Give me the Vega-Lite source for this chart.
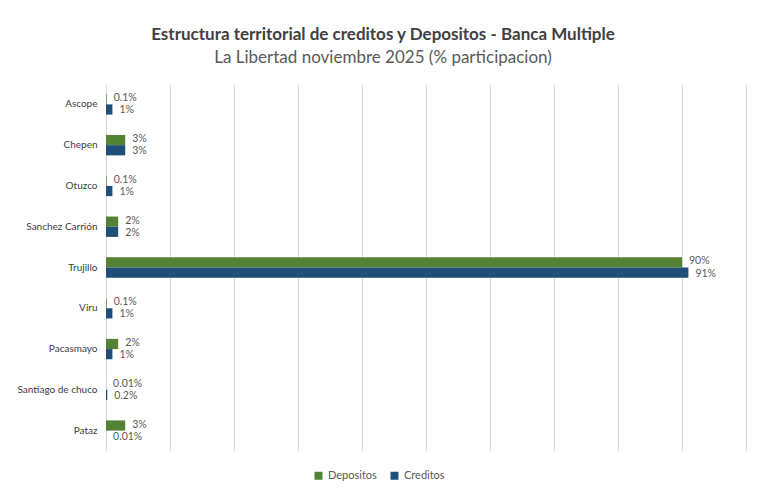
{
  "$schema": "https://vega.github.io/schema/vega-lite/v6.json",
  "width": 640,
  "height": 367,
  "autosize": {"type": "none"},
  "padding": {"left": 106, "top": 84, "right": 12, "bottom": 41},
  "background": "white",
  "title": {
    "text": "Estructura territorial de creditos y Depositos - Banca Multiple",
    "subtitle": "La Libertad noviembre 2025 (% participacion)",
    "anchor": "middle",
    "dx": -43,
    "offset": 17,
    "font": "Lato",
    "fontSize": 17,
    "fontWeight": "bold",
    "color": "#404040",
    "subtitleFont": "Lato",
    "subtitleFontSize": 17,
    "subtitleColor": "#595959",
    "subtitlePadding": 6
  },
  "data": {
    "values": [
      {"provincia": "Ascope", "serie": "Depositos", "valor": 0.1, "etiqueta": "0.1%"},
      {"provincia": "Ascope", "serie": "Creditos", "valor": 1, "etiqueta": "1%"},
      {"provincia": "Chepen", "serie": "Depositos", "valor": 3, "etiqueta": "3%"},
      {"provincia": "Chepen", "serie": "Creditos", "valor": 3, "etiqueta": "3%"},
      {"provincia": "Otuzco", "serie": "Depositos", "valor": 0.1, "etiqueta": "0.1%"},
      {"provincia": "Otuzco", "serie": "Creditos", "valor": 1, "etiqueta": "1%"},
      {"provincia": "Sanchez Carrión", "serie": "Depositos", "valor": 1.9, "etiqueta": "2%"},
      {"provincia": "Sanchez Carrión", "serie": "Creditos", "valor": 1.9, "etiqueta": "2%"},
      {"provincia": "Trujillo", "serie": "Depositos", "valor": 90, "etiqueta": "90%"},
      {"provincia": "Trujillo", "serie": "Creditos", "valor": 91, "etiqueta": "91%"},
      {"provincia": "Viru", "serie": "Depositos", "valor": 0.1, "etiqueta": "0.1%"},
      {"provincia": "Viru", "serie": "Creditos", "valor": 1, "etiqueta": "1%"},
      {"provincia": "Pacasmayo", "serie": "Depositos", "valor": 1.9, "etiqueta": "2%"},
      {"provincia": "Pacasmayo", "serie": "Creditos", "valor": 1, "etiqueta": "1%"},
      {"provincia": "Santiago de chuco", "serie": "Depositos", "valor": 0.01, "etiqueta": "0.01%"},
      {"provincia": "Santiago de chuco", "serie": "Creditos", "valor": 0.2, "etiqueta": "0.2%"},
      {"provincia": "Pataz", "serie": "Depositos", "valor": 3, "etiqueta": "3%"},
      {"provincia": "Pataz", "serie": "Creditos", "valor": 0.01, "etiqueta": "0.01%"}
    ]
  },
  "encoding": {
    "y": {
      "field": "provincia",
      "type": "nominal",
      "sort": null,
      "title": null,
      "scale": {"paddingInner": 0.5, "paddingOuter": 0.25},
      "axis": {
        "domain": false,
        "ticks": false,
        "labelFont": "Lato",
        "labelFontSize": 10,
        "labelColor": "#404040",
        "labelPadding": 9
      }
    },
    "yOffset": {"field": "serie", "type": "nominal", "sort": ["Depositos", "Creditos"]},
    "x": {
      "field": "valor",
      "type": "quantitative",
      "title": null,
      "scale": {"domain": [0, 100], "nice": false},
      "axis": {
        "values": [0, 10, 20, 30, 40, 50, 60, 70, 80, 90, 100],
        "labels": false,
        "ticks": false,
        "domain": false,
        "grid": true,
        "gridColor": "#d9d9d9",
        "gridWidth": 1
      }
    }
  },
  "layer": [
    {
      "mark": {"type": "bar"},
      "encoding": {
        "color": {
          "field": "serie",
          "type": "nominal",
          "scale": {"domain": ["Depositos", "Creditos"], "range": ["#548235", "#1f4e79"]},
          "legend": {
            "title": null,
            "orient": "none",
            "direction": "horizontal",
            "legendX": 207,
            "legendY": 386,
            "symbolType": "square",
            "symbolSize": 64,
            "symbolStrokeWidth": 0,
            "labelFont": "Lato",
            "labelFontSize": 11,
            "labelColor": "#595959",
            "columnPadding": 12,
            "labelOffset": 4
          }
        }
      }
    },
    {
      "transform": [{"filter": "datum.serie === 'Depositos'"}],
      "mark": {"type": "text", "align": "left", "baseline": "middle", "dx": 7, "dy": -1, "font": "Lato", "fontSize": 10.5, "fill": "#595959"},
      "encoding": {
        "text": {"field": "etiqueta"}
      }
    },
    {
      "transform": [{"filter": "datum.serie === 'Creditos'"}],
      "mark": {"type": "text", "align": "left", "baseline": "middle", "dx": 7, "dy": 1, "font": "Lato", "fontSize": 10.5, "fill": "#595959"},
      "encoding": {
        "text": {"field": "etiqueta"}
      }
    }
  ],
  "config": {
    "view": {"stroke": null}
  }
}
